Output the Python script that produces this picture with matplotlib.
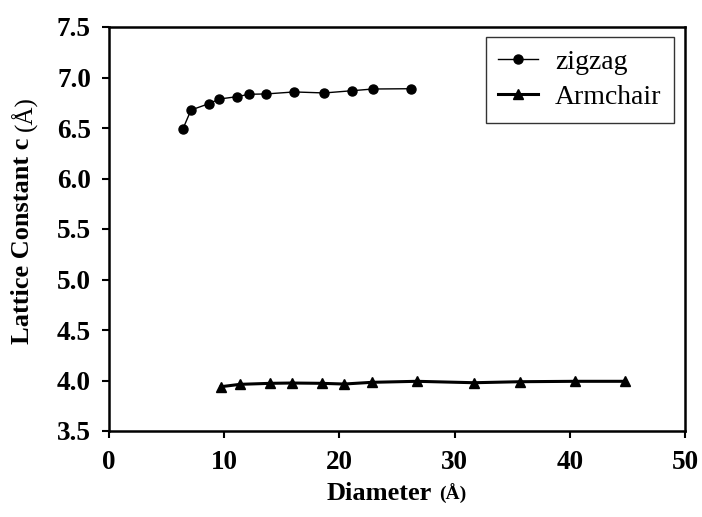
import matplotlib
matplotlib.use("Agg")
import matplotlib.pyplot as plt

zig_d = [6.40, 7.12, 8.65, 9.58, 11.11, 12.15, 13.61, 16.08, 18.69, 21.09, 22.89, 26.24]
zig_c = [6.487, 6.678, 6.74, 6.787, 6.81, 6.834, 6.837, 6.857, 6.847, 6.869, 6.886, 6.889]

arm_d = [9.75, 11.37, 14.0, 15.86, 18.49, 20.4, 22.83, 26.71, 31.69, 35.69, 40.47, 44.8]
arm_c = [3.939, 3.962, 3.972, 3.975, 3.972, 3.965, 3.982, 3.992, 3.978, 3.988, 3.992, 3.992]

xticks = [0, 10, 20, 30, 40, 50]
yticks = [3.5, 4.0, 4.5, 5.0, 5.5, 6.0, 6.5, 7.0, 7.5]

plt.rcParams['font.family'] = ['Liberation Serif', 'DejaVu Serif']

fig = plt.figure(figsize=(7.02, 5.17), dpi=100)
ax = fig.add_axes([109/702, 1-431/517, (685-109)/702, (431-27)/517])

ax.plot(zig_d, zig_c, color='black', lw=1.0, marker='o', ms=6.5, label='zigzag')
ax.plot(arm_d, arm_c, color='black', lw=2.2, marker='^', ms=7, label='Armchair')

ax.set_xlim(0, 50)
ax.set_ylim(3.5, 7.5)
ax.set_xticks(xticks)
ax.set_yticks(yticks)
ax.set_xticklabels([str(v) for v in xticks])
ax.set_yticklabels([f"{v:.1f}" for v in yticks])
for lab in ax.get_xticklabels() + ax.get_yticklabels():
    lab.set_fontweight('bold')
    lab.set_fontsize(19.5)
ax.tick_params(axis='both', direction='out', length=5, width=1.5)
ax.tick_params(axis='y', pad=8)
ax.tick_params(axis='x', pad=9)
for s in ax.spines.values():
    s.set_linewidth(1.8)

xl = ax.set_xlabel('Diameter', fontsize=19, fontweight='bold')
ax.xaxis.set_label_coords(0.47, -0.125)
ax.annotate('(Å)', xy=(1, 0), xycoords=xl, xytext=(5, 0), textcoords='offset points',
            fontsize=14, fontweight='bold', ha='left', va='bottom')

yl = ax.set_ylabel('Lattice Constant c', fontsize=19, fontweight='bold')
ax.yaxis.set_label_coords(-0.13, 0.47)
ax.annotate('(Å)', xy=(0, 1), xycoords=yl, xytext=(0, 5), textcoords='offset points',
            fontsize=18, rotation=90, ha='left', va='bottom')

leg = ax.legend(loc='upper right', bbox_to_anchor=(674/702, 1-37/517), bbox_transform=fig.transFigure,
                borderaxespad=0, fontsize=20, frameon=True, fancybox=False, edgecolor='black',
                handlelength=1.45, handletextpad=0.6, borderpad=0.45, labelspacing=0.35)
leg.get_frame().set_linewidth(1.0)

fig.savefig('out.png', dpi=100)
